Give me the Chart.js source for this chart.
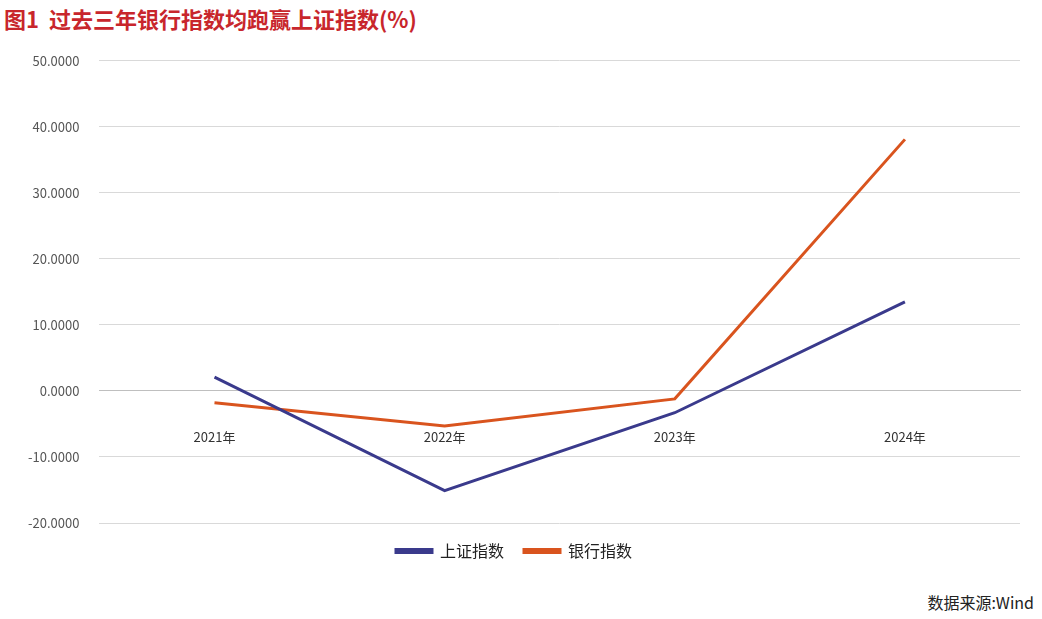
<!DOCTYPE html>
<html>
<head>
<meta charset="utf-8">
<script src="https://cdn.jsdelivr.net/npm/chart.js@4.4.1/dist/chart.umd.min.js"></script>
<style>
  body { margin:0; background:#fff; font-family:"Noto Sans CJK SC", sans-serif; }
  #title { position:absolute; left:4px; top:2px; font-size:22px; font-weight:bold; color:#c8262c; }
  #wrap { position:absolute; left:0; top:33px; width:1030px; height:544px; }
  #source { position:absolute; right:8px; top:590px; font-size:16px; color:#222; }
</style>
</head>
<body>
<div id="title">图1&nbsp; 过去三年银行指数均跑赢上证指数(%)</div>
<div id="wrap"><canvas id="chart"></canvas></div>
<div id="source">数据来源:Wind</div>
<script>
// 年份与两条指数的涨跌幅(%)
const years    = ['2021年', '2022年', '2023年', '2024年'];
const shIndex  = [2.1, -15.1, -3.3, 13.5];
const bankIdx  = [-1.8, -5.3, -1.2, 38.1];

const tickFont = { family: 'Noto Sans CJK SC', size: 13 };

new Chart(document.getElementById('chart'), {
  type: 'line',
  data: {
    labels: years,
    datasets: [
      { label: '上证指数', data: shIndex, borderColor: '#3a3a8c', backgroundColor: '#3a3a8c',
        borderWidth: 3, pointRadius: 0, tension: 0 },
      { label: '银行指数', data: bankIdx, borderColor: '#d9541e', backgroundColor: '#d9541e',
        borderWidth: 3, pointRadius: 0, tension: 0 }
    ]
  },
  options: {
    responsive: true,
    maintainAspectRatio: false,
    animation: false,
    layout: { padding: { left: 8, right: 10, top: 8, bottom: 8 } },
    plugins: {
      legend: {
        position: 'bottom',
        labels: { font: { family: 'Noto Sans CJK SC', size: 16 }, color: '#222',
                  boxWidth: 36, boxHeight: 3, padding: 20 }
      },
      tooltip: { enabled: false }
    },
    scales: {
      x: {
        offset: true,
        position: { y: 0 },
        grid: { display: false },
        border: { color: '#bfbfbf' },
        ticks: { font: tickFont, color: '#333', padding: 30 }
      },
      y: {
        min: -20, max: 50,
        ticks: { stepSize: 10, font: tickFont, color: '#555', padding: 20,
                 callback: v => v.toFixed(4) },
        grid: { color: '#d9d9d9', drawTicks: false },
        border: { display: false }
      }
    }
  }
});
</script>
</body>
</html>
